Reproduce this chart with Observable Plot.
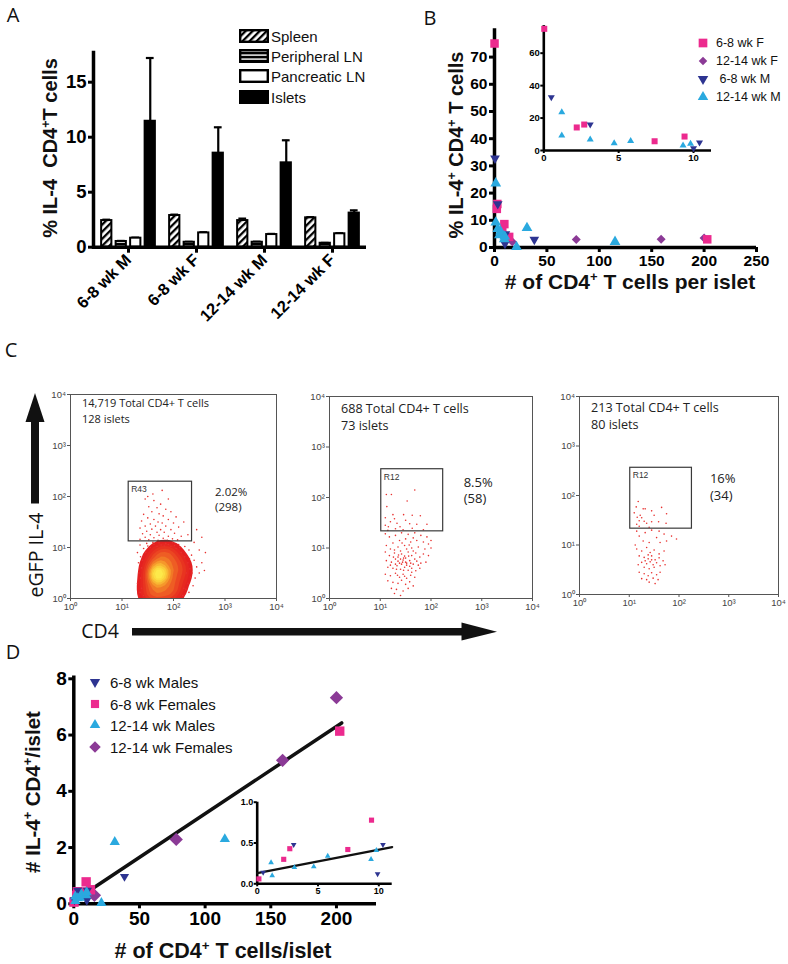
<!DOCTYPE html>
<html><head><meta charset="utf-8">
<script src="https://cdn.jsdelivr.net/npm/d3@7"></script>
<script src="https://cdn.jsdelivr.net/npm/@observablehq/plot@0.6"></script>
<style>
body{margin:0;background:#fff;}
#root{position:relative;width:788px;height:964px;overflow:hidden;background:#fff;font-family:"Liberation Sans",Arial,sans-serif;}
sup{font-size:0.62em;vertical-align:0.6em;line-height:0;}
</style></head><body>
<svg width="0" height="0" style="position:absolute">
<defs>
<pattern id="hatch" patternUnits="userSpaceOnUse" width="5" height="5" patternTransform="rotate(45)">
<rect width="5" height="5" fill="white"/><rect width="2.3" height="5" fill="black"/>
</pattern>
<pattern id="hstripe" patternUnits="userSpaceOnUse" width="4" height="4">
<rect width="4" height="4" fill="black"/><rect y="1.4" width="4" height="1.4" fill="white"/>
</pattern>
</defs></svg>
<div id="root"></div>
<script>
// ---------------- DATA ----------------
// Panel A
const groupsA = ["6-8 wk M","6-8 wk F","12-14 wk M","12-14 wk F"];
const tissues = ["Spleen","Peripheral LN","Pancreatic LN","Islets"];
const spleenMean = [2.42, 2.88, 2.42, 2.67];
const spleenSem  = [0.08, 0.08, 0.18, 0.06];
const periphMean = [0.52, 0.45, 0.45, 0.36];
const periphSem  = [0.05, 0.04, 0.05, 0.03];
const pancMean   = [0.82, 1.30, 1.15, 1.22];
const pancSem    = [0.05, 0.06, 0.06, 0.05];
const isletMean  = [11.45, 8.55, 7.67, 3.10];
const isletSem   = [5.75, 2.35, 2.05, 0.25];

// Panel B (% IL-4+ vs # CD4+ per islet)
const seriesNamesB = ["6-8 wk F","12-14 wk F"," 6-8 wk M","12-14 wk M"];
const bF68X   = [0.03, 2.2, 2.7, 7.4, 9.4, 14, 203];
const bF68Y   = [75, 14.2, 16, 5.7, 8.6, 3.9, 3.0];
const bF1214X = [17, 78, 159, 200];
const bF1214Y = [2.1, 2.9, 3.0, 3.5];
const bM68X   = [0.5, 3.1, 10, 10.4, 38];
const bM68Y   = [32.8, 16, 1.4, 4.9, 2.9];
const bM1214X = [1.2, 1.2, 3.1, 4.7, 5.8, 9.3, 9.8, 21, 31, 115];
const bM1214Y = [23.6, 9.2, 6.8, 4.5, 5.9, 3.1, 4.1, 0.2, 7.2, 2.1];

// Panel D (# IL-4+ per islet vs # CD4+ per islet)
const seriesNamesD = ["6-8 wk Males","6-8 wk Females","12-14 wk Males","12-14 wk Females"];
const dF68X   = [0.14, 2.18, 2.68, 7.45, 9.4, 12.7, 202.5];
const dF68Y   = [0.06, 0.30, 0.43, 0.42, 0.78, 0.50, 6.14];
const dF1214X = [15.7, 78, 159, 200];
const dF1214Y = [0.30, 2.29, 5.10, 7.33];
const dM68X   = [0.49, 3.0, 9.9, 10.34, 38.6];
const dM68Y   = [0.14, 0.48, 0.12, 0.48, 0.97];
const dM1214X = [1.14, 1.23, 3.06, 4.65, 5.8, 9.36, 9.8, 21, 31.2, 115];
const dM1214Y = [0.26, 0.10, 0.20, 0.21, 0.34, 0.30, 0.41, 0.03, 2.2, 2.3];
const fitMainX = [0, 204];
const fitMainY = [0.10, 6.43];
const fitInsetX = [0, 11.1];
const fitInsetY = [0.13, 0.45];

// Panel C (flow plots, log10 decades)
const flowHeaders = ["14,719 Total CD4+ T cells\n128 islets","688 Total CD4+ T cells\n73 islets","213 Total CD4+ T cells\n80 islets"];
const flowGateNames = ["R43","R12","R12"];
const flowPct = ["2.02%\n(298)","8.5%\n(58)","16%\n(34)"];
const gate1 = {x1:1.13, x2:2.36, y1:1.12, y2:2.29};
const gate2 = {x1:1.02, x2:2.24, y1:1.33, y2:2.56};
const gate3 = {x1:1.02, x2:2.26, y1:1.33, y2:2.56};
const p1Core = [[1.48,0.04],[1.58,0.04],[1.68,0.04],[1.78,0.04],[1.88,0.04],[1.98,0.06],[2.08,0.10],
 [1.46,0.22],[1.56,0.20],[1.66,0.22],[1.76,0.20],[1.86,0.22],[1.96,0.26],[2.06,0.28],[2.16,0.34],
 [1.48,0.40],[1.58,0.42],[1.66,0.46],[1.72,0.48],[1.80,0.44],[1.90,0.48],[2.00,0.50],[2.12,0.52],[2.22,0.56],
 [1.50,0.60],[1.60,0.64],[1.70,0.64],[1.82,0.64],[1.94,0.66],[2.06,0.70],[2.16,0.72],
 [1.56,0.78],[1.68,0.82],[1.80,0.82],[1.92,0.84],[2.04,0.86],
 [1.66,0.94],[1.80,0.96],[1.94,0.95],
 [1.66,0.44],[1.70,0.54],[1.74,0.46],[1.68,0.50],[1.72,0.40],[1.76,0.52]];
const p1Cells = [[1.45,1.95],[1.62,1.92],[1.75,1.85],[1.52,1.80],[1.68,1.78],[1.85,1.75],[1.58,1.70],[1.95,1.70],[1.42,1.65],[1.72,1.66],
 [1.80,1.62],[2.05,1.60],[1.50,1.58],[1.62,1.55],[1.90,1.55],[1.38,1.52],[1.70,1.50],[1.78,1.48],[2.00,1.48],[1.55,1.46],
 [1.45,1.42],[1.65,1.42],[1.85,1.42],[2.10,1.40],[1.35,1.38],[1.58,1.36],[1.75,1.35],[1.95,1.35],[1.48,1.32],[1.68,1.30],
 [1.82,1.30],[2.02,1.28],[1.40,1.27],[1.55,1.25],[1.72,1.24],[1.90,1.22],[2.15,1.22],[1.45,1.20],[1.62,1.19],[1.80,1.18],
 [1.98,1.17],[1.35,1.16],[1.52,1.15],[1.70,1.14],[1.88,1.14],[2.08,1.15],[1.60,2.05],[1.78,2.12],[1.50,2.00],[1.90,1.95],[2.20,1.50],
 [1.35,1.05],[1.48,1.08],[1.60,1.10],[1.72,1.09],[1.85,1.08],[1.98,1.10],[2.10,1.06],[2.22,1.02],[2.30,0.95],[2.35,0.85],
 [2.40,0.75],[2.45,0.62],[2.50,0.50],[2.42,0.40],[2.55,0.70],[2.38,0.25],[2.30,0.12],[2.60,0.55],[2.50,0.95],[2.40,1.10],
 [2.55,1.20],[1.30,0.90],[1.32,0.70],[1.33,0.50],[1.30,0.30],[1.35,0.12],[1.36,0.82],[2.28,1.25],[2.45,1.35],[2.62,0.90],
 [1.42,0.98],[2.25,0.50],[2.20,0.20],[1.38,0.60],[1.36,0.40],[1.38,0.20],[1.40,0.75],[1.46,0.90],[1.55,1.00],[1.68,1.02],
 [1.82,1.03],[1.95,1.02],[2.05,0.98],[2.15,0.90],[2.22,0.82],[2.28,0.70],[2.32,0.58],[2.33,0.42],[2.28,0.30],[2.24,0.18],
 [2.18,0.06],[1.42,0.06],[2.36,0.50],[2.31,0.78],[2.12,1.00],[1.50,1.03],[1.62,1.06],[1.76,1.05],[1.90,1.06],[2.02,1.04]];
const p2Cells = [[1.12,2.06],[1.22,2.06],[1.68,2.15],[1.53,1.93],[1.13,1.82],[1.25,1.66],[1.46,1.66],[1.63,1.65],[1.79,1.64],[1.20,1.52],
 [1.33,1.49],[1.92,1.47],[1.72,1.47],[1.16,1.42],[1.39,1.42],[1.63,1.39],[1.10,1.60],[1.28,1.58],[1.50,1.55],[1.15,1.35],
 [1.45,1.36],[1.85,1.36],[1.10,1.45],[1.30,1.38],[1.58,1.48],
 [1.10,1.28],[1.18,1.22],[1.30,1.25],[1.42,1.30],[1.55,1.27],[1.68,1.30],[1.80,1.25],[1.92,1.22],[2.00,1.15],[1.95,1.08],
 [1.85,1.12],[1.72,1.15],[1.60,1.12],[1.50,1.18],[1.38,1.15],[1.25,1.10],[1.12,1.05],[1.20,0.98],[1.35,1.02],[1.48,1.05],
 [1.62,1.00],[1.75,1.02],[1.88,0.98],[2.00,1.00],[1.65,1.20],
 [1.10,0.92],[1.18,0.85],[1.28,0.90],[1.35,0.82],[1.42,0.88],[1.50,0.80],[1.55,0.92],[1.62,0.85],[1.70,0.90],[1.78,0.82],
 [1.85,0.88],[1.95,0.85],[1.12,0.75],[1.22,0.72],[1.30,0.78],[1.38,0.70],[1.45,0.76],[1.52,0.70],[1.58,0.75],[1.65,0.68],
 [1.72,0.74],[1.80,0.70],[1.90,0.72],[1.15,0.62],[1.25,0.60],[1.33,0.65],[1.40,0.58],[1.48,0.62],[1.55,0.56],[1.62,0.60],
 [1.70,0.55],[1.78,0.60],[1.42,0.68],[1.50,0.72],[1.35,0.74],[1.46,0.80],[1.40,0.78],[1.52,0.66],[1.60,0.70],[1.30,0.68],
 [1.10,0.48],[1.20,0.45],[1.30,0.50],[1.38,0.42],[1.45,0.48],[1.52,0.40],[1.60,0.46],[1.68,0.42],[1.15,0.35],[1.25,0.32],
 [1.35,0.30],[1.42,0.36],[1.50,0.28],[1.58,0.33],[1.65,0.25],[1.22,0.20],[1.32,0.18],[1.45,0.15],[1.55,0.20],[1.40,0.06],[1.28,0.10],
 [1.44,0.72],[1.48,0.84],[1.36,0.86],[1.56,0.84],[1.26,0.82],[1.40,0.94],[1.52,0.98],[1.32,0.58],[1.46,0.56],[1.58,0.64],
 [1.68,0.78],[1.20,0.66],[1.75,0.66],[1.65,0.94],[1.28,0.96],[1.43,1.10],[1.57,1.06],[1.34,0.46],[1.48,0.44],[1.62,0.52]];
const p3Cells = [[1.14,1.77],[1.18,1.88],[1.16,1.56],[1.20,1.49],[1.28,1.73],[1.32,1.73],[1.45,1.69],[1.65,1.76],[1.75,1.63],[1.74,1.44],
 [1.59,1.47],[1.45,1.47],[1.35,1.44],[1.15,1.42],[1.22,1.60],[1.25,1.55],[1.30,1.48],[1.10,1.65],[1.50,1.60],[1.20,1.38],[1.40,1.36],
 [1.15,1.28],[1.20,1.18],[1.32,1.25],[1.45,1.30],[1.60,1.28],[1.70,1.22],[1.85,1.18],[1.95,1.12],[1.55,1.15],[1.28,1.08],
 [1.12,1.00],[1.40,1.05],[1.62,1.05],[1.75,1.08],
 [1.15,0.92],[1.25,0.88],[1.35,0.95],[1.42,0.85],[1.50,0.90],[1.60,0.82],[1.70,0.88],[1.20,0.78],[1.30,0.75],[1.38,0.72],
 [1.45,0.78],[1.52,0.70],[1.60,0.74],[1.68,0.68],[1.25,0.65],[1.35,0.62],[1.42,0.66],[1.48,0.60],[1.55,0.64],[1.62,0.58],
 [1.30,0.55],[1.40,0.52],[1.50,0.55],[1.72,0.60],[1.18,0.60],[1.45,0.70],[1.38,0.80],[1.32,0.68],
 [1.20,0.45],[1.30,0.42],[1.38,0.38],[1.45,0.44],[1.55,0.40],[1.62,0.45],[1.25,0.32],[1.35,0.30],[1.48,0.33],[1.58,0.30],[1.40,0.25],[1.52,0.22]];

// ---------------- STYLE HELPERS ----------------
const FONT = '"Liberation Sans", Arial, sans-serif';
const PINK = "#ec2a8e", PURPLE = "#8b3a96", NAVY = "#2d3491", CYAN = "#2aa9df";
const SUP = ["⁰","¹","²","³","⁴"];
const root = document.getElementById("root");

const symSquare = d3.symbolSquare;
const symDiamond = {draw(c, s){ const a = Math.sqrt(s/2); c.moveTo(0,-a); c.lineTo(a,0); c.lineTo(0,a); c.lineTo(-a,0); c.closePath(); }};
const symTriUp = {draw(c, s){ const L = Math.sqrt(s*4/Math.sqrt(3)); const h = L*Math.sqrt(3)/2; c.moveTo(0,-2*h/3); c.lineTo(L/2,h/3); c.lineTo(-L/2,h/3); c.closePath(); }};
const symTriDown = {draw(c, s){ const L = Math.sqrt(s*4/Math.sqrt(3)); const h = L*Math.sqrt(3)/2; c.moveTo(0,2*h/3); c.lineTo(L/2,-h/3); c.lineTo(-L/2,-h/3); c.closePath(); }};

function put(node, left, top, w, h){
  const d = document.createElement("div");
  d.style.cssText = `position:absolute;left:${left}px;top:${top}px;width:${w}px;height:${h}px;`;
  d.appendChild(node); root.appendChild(d);
}
function label(html, cx, cy, size, o = {}){
  const d = document.createElement("div");
  d.innerHTML = html;
  d.style.cssText = `position:absolute;left:${cx}px;top:${cy}px;white-space:pre;font-size:${size}px;line-height:1;font-weight:${o.weight||"bold"};font-family:${o.family||FONT};color:#111;transform:translate(${o.left?"0":"-50%"},-50%)${o.rot?" rotate(-90deg)":""};`;
  root.appendChild(d);
}
function pts(xs, ys){ return xs.map((x,i)=>({x, y: ys[i]})); }
function symSvg(sym, r, color){
  const p = d3.symbol(sym, Math.PI*r*r)();
  return `<svg width="16" height="16" viewBox="-8 -8 16 16" style="display:block"><path d="${p}" fill="${color}"/></svg>`;
}
function legendRow(svgHtml, sx, cy, text, size, textLeft){
  const s = document.createElement("div");
  s.innerHTML = svgHtml;
  s.style.cssText = `position:absolute;left:${sx}px;top:${cy}px;transform:translate(-50%,-50%);`;
  root.appendChild(s);
  label(text, textLeft, cy, size, {weight:"normal", left:true});
}

// ---------------- PANEL A ----------------
const meansA = [spleenMean, periphMean, pancMean, isletMean];
const semsA = [spleenSem, periphSem, pancSem, isletSem];
const rowsA = [];
tissues.forEach((t,k)=> groupsA.forEach((g,i)=> rowsA.push({group:g, tissue:t, mean:meansA[k][i], sem:semsA[k][i]})));
const fillsA = ["url(#hatch)","url(#hstripe)","white","black"];
const A_W = 380, A_ML = 93, A_MR = 14;
const bandA = (A_W - A_ML - A_MR)/4;
const barW = 10.5, barStep = 14.5;
const barLeft = k => (bandA - (3*barStep + barW))/2 + k*barStep;
const byT = t => rowsA.filter(r => r.tissue === t);

const plotA = Plot.plot({
  width: A_W, height: 330, marginLeft: A_ML, marginRight: A_MR, marginTop: 52, marginBottom: 83.3,
  x: {domain: groupsA, padding: 0},
  y: {domain: [0, 17.7]},
  style: {fontFamily: FONT, fontWeight: "bold", fontSize: "18px", color: "black", background: "transparent", overflow: "visible"},
  marks: [
    ...tissues.map((t,k)=> Plot.ruleX(byT(t), {x:"group", y1:"mean", y2:d=>d.mean+d.sem, dx: barLeft(k)+barW/2-bandA/2, strokeWidth:2.2})),
    ...tissues.map((t,k)=> Plot.tickY(byT(t), {x:"group", y:d=>d.mean+d.sem, insetLeft: barLeft(k)+barW/2-4, insetRight: bandA-(barLeft(k)+barW/2+4), strokeWidth:2.2})),
    ...tissues.map((t,k)=> Plot.barY(byT(t), {x:"group", y:"mean", fill: fillsA[k], stroke:"black", strokeWidth:2, insetLeft: barLeft(k), insetRight: bandA-barLeft(k)-barW})),
    Plot.ruleY([0], {strokeWidth: 3.5}),
    Plot.frame({anchor: "left", strokeWidth: 3.5}),
    Plot.axisY({ticks:[0,5,10,15], tickSize:5, tickPadding:2, strokeWidth:3, label:null, fontSize:18.5, fontWeight:"bold"}),
    Plot.axisX({tickSize:6, strokeWidth:3, tickRotate:-45, tickPadding:4, label:null, fontSize:16.5, fontWeight:"bold"})
  ]
});
put(plotA, 0, 0, A_W, 330);
label("% IL-4  CD4<sup>+</sup>T cells", 50, 148, 20, {rot:true});
tissues.forEach((t,k)=> legendRow(`<svg width="30" height="14" style="display:block"><rect x="1.2" y="1.2" width="27.6" height="11.6" fill="${fillsA[k]}" stroke="black" stroke-width="2.4"/></svg>`, 254, 36 + k*20.2, t, 15, 271));

// ---------------- PANEL B ----------------
const seriesB = [
  {name: seriesNamesB[1], data: pts(bF1214X, bF1214Y), color: PURPLE, sym: symDiamond, r: 3.6, ri: 2.6},
  {name: seriesNamesB[0], data: pts(bF68X, bF68Y), color: PINK, sym: symSquare, r: 4.8, ri: 3.4},
  {name: seriesNamesB[2], data: pts(bM68X, bM68Y), color: NAVY, sym: symTriDown, r: 3.6, ri: 2.6},
  {name: seriesNamesB[3], data: pts(bM1214X, bM1214Y), color: CYAN, sym: symTriUp, r: 4.0, ri: 2.6}
];
const plotB = Plot.plot({
  width: 408, height: 300, marginLeft: 114, marginRight: 32, marginTop: 28.3, marginBottom: 53,
  x: {domain: [0, 250]}, y: {domain: [0, 80.4]},
  style: {fontFamily: FONT, fontWeight: "bold", fontSize: "15.5px", color: "black", background: "transparent", overflow: "visible"},
  marks: [
    Plot.ruleY([0], {strokeWidth: 3.5}), Plot.ruleX([0], {strokeWidth: 3.5}),
    Plot.axisY({ticks: d3.range(0, 71, 10), tickSize: 5, tickPadding: 2, strokeWidth: 3, label: null, fontSize: 15.5, fontWeight: "bold"}),
    Plot.axisX({ticks: d3.range(0, 251, 50), tickSize: 5, tickPadding: 2, strokeWidth: 3, label: null, fontSize: 15.5, fontWeight: "bold"}),
    ...seriesB.map(s => Plot.dot(s.data, {x:"x", y:"y", symbol: s.sym, r: s.r, fill: s.color}))
  ]
});
put(plotB, 380, 0, 408, 300);
label("% IL-4<sup>+</sup> CD4<sup>+</sup> T cells", 456, 145, 20, {rot:true});
label("# of CD4<sup>+</sup> T cells per islet", 630, 281, 21);

const plotBi = Plot.plot({
  width: 220, height: 165, marginLeft: 43.3, marginRight: 9, marginTop: 10.1, marginBottom: 30,
  x: {domain: [0, 11.2]}, y: {domain: [0, 77]},
  style: {fontFamily: FONT, fontWeight: "bold", fontSize: "9.5px", color: "black", background: "transparent", overflow: "visible"},
  marks: [
    Plot.ruleY([0], {strokeWidth: 2.6}), Plot.ruleX([0], {strokeWidth: 2.6}),
    Plot.axisY({ticks: [0,20,40,60], tickSize: 3, tickPadding: 1, strokeWidth: 2, label: null, fontSize: 9.5, fontWeight: "bold"}),
    Plot.axisX({ticks: [0,5,10], tickSize: 3, tickPadding: 1, strokeWidth: 2, label: null, fontSize: 9.5, fontWeight: "bold"}),
    ...seriesB.map(s => Plot.dot(s.data.filter(d => d.x <= 11.2), {x:"x", y:"y", symbol: s.sym, r: s.ri, fill: s.color}))
  ]
});
put(plotBi, 500, 15, 220, 165);
[[0, symSquare, PINK, 4.9], [1, symDiamond, PURPLE, 3.4], [2, symTriDown, NAVY, 3.9], [3, symTriUp, CYAN, 3.9]].forEach(([k, sym, col, r]) =>
  legendRow(symSvg(sym, r, col), 703.3, 43.3 + k*18, seriesNamesB[k], 12.5, 716));

// ---------------- PANEL C ----------------
const densityColor = d3.interpolateRgbBasis(["#e31b23", "#e6261f", "#ec4a22", "#f38a27", "#fbd139", "#fde94a"]);
function flowPlot(cfg){
  return Plot.plot({
    width: cfg.w, height: 230, marginLeft: 30, marginRight: cfg.mr, marginTop: cfg.mt, marginBottom: cfg.mb,
    x: {domain: [0, 4]}, y: {domain: [0, 4]},
    color: {type: "linear", interpolate: densityColor},
    style: {fontFamily: FONT, fontSize: "9.5px", color: "#444", background: "transparent", overflow: "visible"},
    marks: [
      cfg.core ? Plot.density(cfg.core, {x: d=>d[0], y: d=>d[1], bandwidth: 5, thresholds: 12, fill: "density", clip: true}) : null,
      Plot.dot(cfg.cells, {x: d=>d[0], y: d=>d[1], r: 0.8, fill: "#e8312f"}),
      Plot.rect([cfg.gate], {x1:"x1", x2:"x2", y1:"y1", y2:"y2", fill:"none", stroke:"#3a3a3a", strokeWidth:1.2}),
      Plot.text([cfg.gate], {x:"x1", y:"y2", text: () => cfg.gateName, dx: 2.5, dy: 4.5, lineAnchor:"top", textAnchor:"start", fontSize: 8.5, fill:"#333"}),
      Plot.text([cfg.gate], {x:"x2", y:"y2", text: () => cfg.pct, dx: cfg.pdx, dy: cfg.pdy, lineAnchor:"top", textAnchor:"start", fontSize: cfg.pfs, lineHeight: cfg.plh, fill:"#222", fontFamily:"Open Sans"}),
      Plot.text([cfg.header], {frameAnchor:"top-left", text: d => d, dx: 11.5, dy: cfg.hdy, lineAnchor:"top", textAnchor:"start", fontSize: cfg.hfs, lineHeight: cfg.hlh, fill:"#222", fontFamily:"Open Sans"}),
      Plot.frame({stroke: "#555", strokeWidth: 1}),
      Plot.axisX({ticks: [0,1,2,3,4], tickFormat: d => "10" + SUP[d], tickSize: 3, tickPadding: 1.5, label: null, stroke: "#555", fill: "#444", fontSize: 9.5}),
      Plot.axisY({ticks: [0,1,2,3,4], tickFormat: d => "10" + SUP[d], tickSize: 3, tickPadding: 1.5, label: null, stroke: "#555", fill: "#444", fontSize: 9.5})
    ].filter(Boolean)
  });
}
put(flowPlot({w: 250, mr: 14, mt: 9, mb: 17, core: p1Core, cells: p1Cells, gate: gate1, gateName: flowGateNames[0], pct: flowPct[0], pdx: 23, pdy: 3.5, pfs: 11.5, plh: 1.3, header: flowHeaders[0], hdy: 2, hfs: 11, hlh: 1.4}), 40, 385, 250, 230);
put(flowPlot({w: 250, mr: 17, mt: 11, mb: 17, cells: p2Cells, gate: gate2, gateName: flowGateNames[1], pct: flowPct[1], pdx: 20.5, pdy: 6, pfs: 13, plh: 1.25, header: flowHeaders[1], hdy: 4, hfs: 12.6, hlh: 1.35}), 299, 385, 250, 230);
put(flowPlot({w: 239, mr: 10, mt: 11, mb: 21, cells: p3Cells, gate: gate3, gateName: flowGateNames[2], pct: flowPct[2], pdx: 18, pdy: 3.5, pfs: 13, plh: 1.3, header: flowHeaders[2], hdy: 4, hfs: 12.6, hlh: 1.3}), 549, 385, 239, 230);

const arrows = document.createElementNS("http://www.w3.org/2000/svg", "svg");
arrows.setAttribute("width", 788); arrows.setAttribute("height", 964);
arrows.style.cssText = "position:absolute;left:0;top:0;pointer-events:none";
arrows.innerHTML = `<rect x="31" y="420" width="8" height="83.5" fill="#111"/><polygon points="25.5,422 35,393 44.5,422" fill="#111"/>
<rect x="132" y="628" width="331" height="7.5" fill="#111"/><polygon points="461.5,622.5 497,631.7 461.5,640.5" fill="#111"/>`;
root.appendChild(arrows);
label("eGFP IL-4", 36, 555, 19.5, {rot:true, weight:"normal", family:"'Open Sans'"});
label("CD4", 100, 631, 19.5, {weight:"normal", family:"'Open Sans'"});

// ---------------- PANEL D ----------------
const seriesD = [
  {name: seriesNamesD[3], data: pts(dF1214X, dF1214Y), color: PURPLE, sym: symDiamond, r: 5.3, ri: 2.6},
  {name: seriesNamesD[1], data: pts(dF68X, dF68Y), color: PINK, sym: symSquare, r: 5.3, ri: 2.9},
  {name: seriesNamesD[0], data: pts(dM68X, dM68Y), color: NAVY, sym: symTriDown, r: 3.4, ri: 2.1},
  {name: seriesNamesD[2], data: pts(dM1214X, dM1214Y), color: CYAN, sym: symTriUp, r: 3.8, ri: 2.1}
];
const plotD = Plot.plot({
  width: 400, height: 324, marginLeft: 73.3, marginRight: 24, marginTop: 35.5, marginBottom: 60.7,
  x: {domain: [0, 230.5]}, y: {domain: [0, 8.1]},
  style: {fontFamily: FONT, fontWeight: "bold", fontSize: "19px", color: "black", background: "transparent", overflow: "visible"},
  marks: [
    Plot.ruleY([0], {strokeWidth: 3.5}), Plot.ruleX([0], {strokeWidth: 3.5}),
    Plot.axisY({ticks: [0,2,4,6,8], tickSize: 5, tickPadding: 2, strokeWidth: 3, label: null, fontSize: 19, fontWeight: "bold"}),
    Plot.axisX({ticks: [0,50,100,150,200], tickSize: 5, tickPadding: 3, strokeWidth: 3, label: null, fontSize: 19, fontWeight: "bold"}),
    Plot.line(pts(fitMainX, fitMainY), {x:"x", y:"y", strokeWidth: 3.5, stroke: "#111"}),
    ...seriesD.map(s => Plot.dot(s.data, {x:"x", y:"y", symbol: s.sym, r: s.r, fill: s.color}))
  ]
});
put(plotD, 0, 640, 400, 324);
label("# IL-4<sup>+</sup> CD4<sup>+</sup>/islet", 33, 792, 20.5, {rot:true});
label("# of CD4<sup>+</sup> T cells/islet", 223, 952, 21.5);

const plotDi = Plot.plot({
  width: 180, height: 118, marginLeft: 36.7, marginRight: 8.3, marginTop: 11.7, marginBottom: 24.7,
  x: {domain: [0, 11.1]}, y: {domain: [0, 1.0]},
  style: {fontFamily: FONT, fontWeight: "bold", fontSize: "9px", color: "black", background: "transparent", overflow: "visible"},
  marks: [
    Plot.ruleY([0], {strokeWidth: 2.6}), Plot.ruleX([0], {strokeWidth: 2.6}),
    Plot.axisY({ticks: [0, 0.5, 1.0], tickFormat: d3.format(".1f"), tickSize: 3, tickPadding: 1, strokeWidth: 2, label: null, fontSize: 9, fontWeight: "bold"}),
    Plot.axisX({ticks: [0,5,10], tickSize: 3, tickPadding: 1, strokeWidth: 2, label: null, fontSize: 9, fontWeight: "bold"}),
    Plot.line(pts(fitInsetX, fitInsetY), {x:"x", y:"y", strokeWidth: 2.2, stroke: "#111"}),
    ...seriesD.map(s => Plot.dot(s.data.filter(d => d.x <= 11.1), {x:"x", y:"y", symbol: s.sym, r: s.ri, fill: s.color}))
  ]
});
put(plotDi, 220, 790, 180, 118);
[[0, symTriDown, NAVY, 3.8], [1, symSquare, PINK, 4.6], [2, symTriUp, CYAN, 3.9], [3, symDiamond, PURPLE, 4.6]].forEach(([k, sym, col, r]) =>
  legendRow(symSvg(sym, r, col), 95, 682.3 + k*21.5, seriesNamesD[k], 15, 110));

// ---------------- PANEL LETTERS ----------------
[["A", 13, 15], ["B", 430, 18], ["C", 11, 350], ["D", 13, 652]].forEach(([t, x, y]) => label(t, x, y, 20, {weight:"normal", family:"'Open Sans'"}));
</script></body></html>
